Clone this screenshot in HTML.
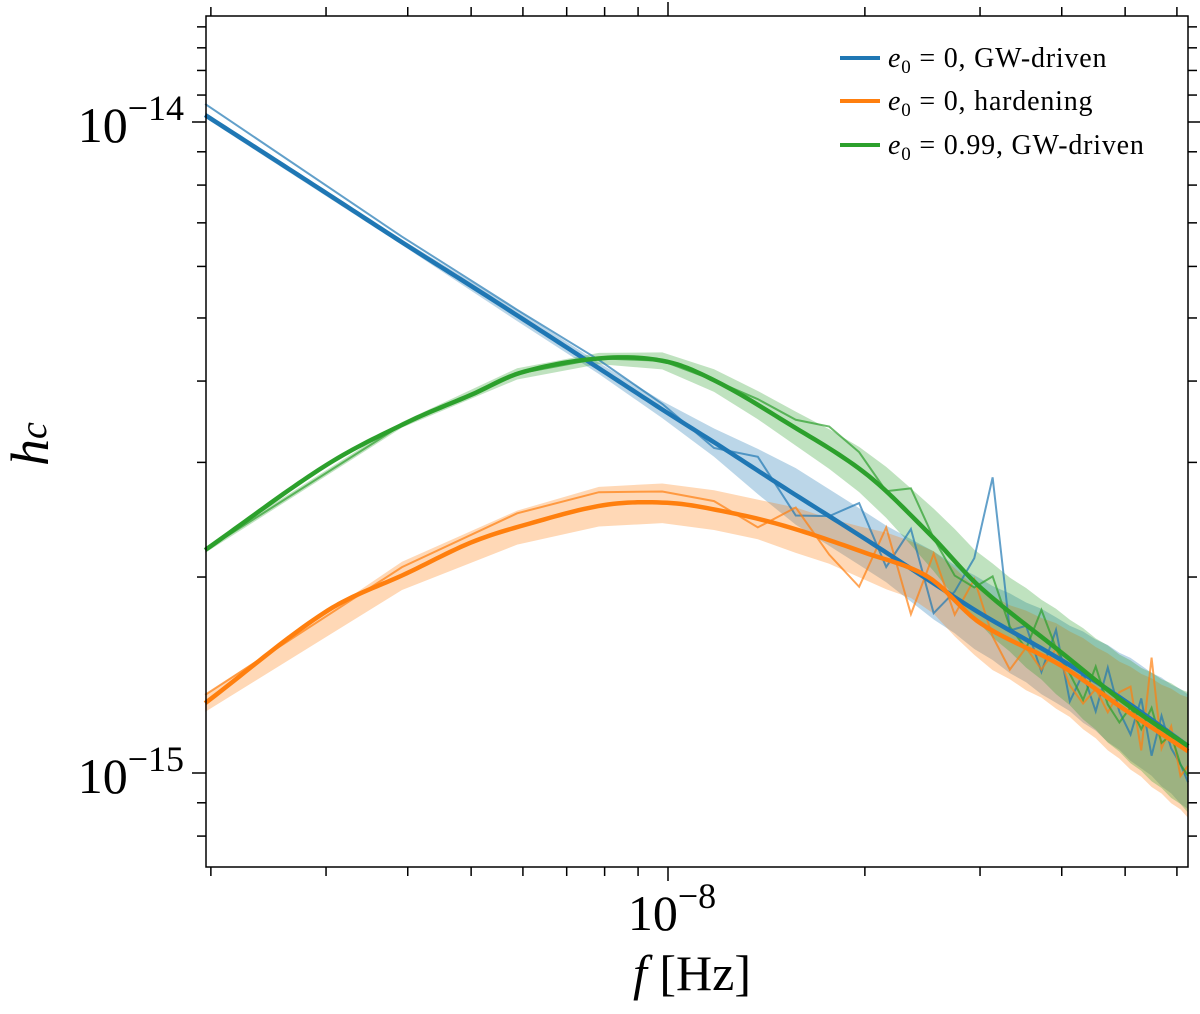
<!DOCTYPE html>
<html><head><meta charset="utf-8"><style>
body{margin:0;background:#fff}
svg text{font-family:"Liberation Serif","DejaVu Serif",serif;fill:#000}
</style></head><body>
<svg id="chart" width="1200" height="1009" viewBox="0 0 1200 1009" xmlns="http://www.w3.org/2000/svg">
<g id="bands"></g>
<g id="thin"></g>
<g id="thick"></g>
<g id="axes"></g>
<g id="legend">
 <line x1="840" y1="58" x2="880" y2="58" stroke="#1f77b4" stroke-width="4"/>
 <text x="888" y="67" font-size="28" letter-spacing="0.8"><tspan font-style="italic">e</tspan><tspan font-size="19" dy="6">0</tspan><tspan dy="-6"> = 0, GW-driven</tspan></text>
 <line x1="840" y1="101" x2="880" y2="101" stroke="#ff7f0e" stroke-width="4"/>
 <text x="888" y="110" font-size="28" letter-spacing="0.8"><tspan font-style="italic">e</tspan><tspan font-size="19" dy="6">0</tspan><tspan dy="-6"> = 0, hardening</tspan></text>
 <line x1="840" y1="145" x2="880" y2="145" stroke="#2ca02c" stroke-width="4"/>
 <text x="888" y="154" font-size="28" letter-spacing="0.8"><tspan font-style="italic">e</tspan><tspan font-size="19" dy="6">0</tspan><tspan dy="-6"> = 0.99, GW-driven</tspan></text>
</g>
</svg>
<script>
// frequencies in nHz, hc in units of 1e-15
const freqs = [1.96,3,4,5,6,8,10,12,15,20,25,30,40,50,62.4];
const blueHc = [10.25,7.78,6.45,5.60,4.98,4.13,3.57,3.18,2.75,2.29,1.98,1.76,1.49,1.29,1.10];
const orangeHc = [1.28,1.77,2.03,2.26,2.40,2.58,2.60,2.53,2.40,2.18,2.00,1.70,1.46,1.25,1.08];
const greenHc = [2.20,2.97,3.46,3.81,4.13,4.34,4.28,3.97,3.48,2.89,2.34,1.93,1.53,1.28,1.10];
// realization factors at f_k = 1.96*k nHz, k=1..32
const blueThin = [1.04,1.02,1.02,1.03,1.02,0.98,1.05,0.93,1.0,1.12,0.95,1.15,0.9,1.02,1.2,1.66,1.0,1.05,0.92,1.1,0.88,1.0,0.9,1.08,0.95,0.9,1.05,0.88,1.04,0.95,0.92,0.88];
const orangeThin = [1.03,1.03,1.05,1.05,1.04,1.03,0.97,1.08,0.95,0.88,1.12,0.85,1.1,0.95,1.15,0.98,0.9,1.0,0.95,1.05,0.95,0.92,1.0,0.95,1.05,1.1,0.9,1.28,0.95,1.05,0.9,0.95];
const greenThin = [1.0,1.0,1.0,1.0,1.0,1.0,1.02,1.03,1.08,1.06,1.0,1.1,1.0,0.95,0.98,1.08,0.95,0.92,1.1,1.0,0.95,0.9,1.05,0.95,0.92,1.0,0.95,1.05,0.95,1.0,0.92,0.9];
const blueSpread = [0.01,0.01,0.02,0.02,0.03,0.05,0.08,0.10,0.10,0.10,0.10,0.11,0.12,0.12,0.13,0.13,0.14,0.14,0.15,0.15,0.15,0.16,0.16,0.17,0.17,0.18,0.18,0.18,0.19,0.19,0.2,0.2];
const orangeSpread = [0.03,0.05,0.06,0.07,0.07,0.07,0.07,0.08,0.08,0.09,0.10,0.10,0.11,0.12,0.12,0.13,0.13,0.14,0.14,0.15,0.15,0.16,0.16,0.17,0.17,0.18,0.18,0.19,0.19,0.2,0.2,0.21];
const greenSpread = [0.01,0.01,0.02,0.02,0.03,0.04,0.05,0.06,0.07,0.08,0.09,0.10,0.11,0.12,0.12,0.13,0.13,0.14,0.14,0.15,0.15,0.16,0.16,0.17,0.17,0.18,0.18,0.19,0.19,0.2,0.2,0.21];
const xTickLabels = ["10","−8"];
const yTickLabels = [["10","−14"],["10","−15"]];

const X0=206,X1=1188,Y0=16,Y1=867;
function xs(f){return 668+654*Math.log10(f/10);}
function ys(h){return 773-651*Math.log10(h);}
const NS="http://www.w3.org/2000/svg";
function mk(tag,attrs,parent){const e=document.createElementNS(NS,tag);for(const k in attrs)e.setAttribute(k,attrs[k]);parent.appendChild(e);return e;}
function interp(arr,f){
  const lf=Math.log10(f), n=freqs.length;
  const L=freqs.map(Math.log10), V=arr.map(Math.log10);
  let i=0; while(i<n-2 && lf>L[i+1]) i++;
  const t=Math.max(0,Math.min(1,(lf-L[i])/(L[i+1]-L[i])));
  const p0=V[Math.max(i-1,0)],p1=V[i],p2=V[i+1],p3=V[Math.min(i+2,n-1)];
  const l0=L[Math.max(i-1,0)],l3=L[Math.min(i+2,n-1)];
  const h=L[i+1]-L[i];
  const m1=(p2-p0)/(L[i+1]-l0)*h, m2=(p3-p1)/(l3-L[i])*h;
  const t2=t*t,t3=t2*t;
  const v=(2*t3-3*t2+1)*p1+(t3-2*t2+t)*m1+(-2*t3+3*t2)*p2+(t3-t2)*m2;
  return Math.pow(10,v);
}
const fk=[];for(let k=1;k<=32;k++)fk.push(Math.min(1.96*k,62.4));
const series=[
 {name:"blue",c:"#1f77b4",hc:blueHc,thin:blueThin,sp:blueSpread},
 {name:"orange",c:"#ff7f0e",hc:orangeHc,thin:orangeThin,sp:orangeSpread},
 {name:"green",c:"#2ca02c",hc:greenHc,thin:greenThin,sp:greenSpread}];
const gB=document.getElementById('bands'),gT=document.getElementById('thin'),gK=document.getElementById('thick');
series.forEach(s=>{
  let up=[],lo=[];
  fk.forEach((f,i)=>{const h=interp(s.hc,f);up.push(xs(f)+","+ys(h*(1+s.sp[i])));lo.push(xs(f)+","+ys(h*(1-s.sp[i])));});
  const b=mk('polygon',{points:up.concat(lo.reverse()).join(" "),fill:s.c,'fill-opacity':0.3,stroke:'none'},gB);
  
  
  const tp=fk.map((f,i)=>xs(f)+","+ys(interp(s.hc,f)*s.thin[i])).join(" ");
  const t=mk('polyline',{points:tp,fill:'none',stroke:s.c,'stroke-width':2,'stroke-opacity':0.7},gT);
  
  
});
series.forEach(s=>{
  const pts=[];
  const a=Math.log10(freqs[0]), b=Math.log10(freqs[freqs.length-1]);
  for(let j=0;j<=200;j++){const f=Math.pow(10,a+(b-a)*j/200);pts.push(xs(f)+","+ys(interp(s.hc,f)));}
  const l=mk('polyline',{points:pts.join(" "),fill:'none',stroke:s.c,'stroke-width':4.5,'stroke-linejoin':'round'},gK);
  
  
});
const gA=document.getElementById('axes');
mk('rect',{x:X0,y:Y0,width:X1-X0,height:Y1-Y0,fill:'none',stroke:'#000','stroke-width':1.5},gA);
const xt=[2,3,4,5,6,7,8,9,10,20,30,40,50,60];
xt.forEach(f=>{const x=xs(f);const L=f===10?14:9;
  mk('line',{x1:x,y1:Y1,x2:x,y2:Y1+L,stroke:'#000','stroke-width':1.5},gA);
  mk('line',{x1:x,y1:Y0,x2:x,y2:Y0-L,stroke:'#000','stroke-width':1.5},gA);});
const yt=[0.8,0.9,1,2,3,4,5,6,7,8,9,10,11,12,13,14];
yt.forEach(h=>{const y=ys(h);if(y<Y0||y>Y1)return;const L=(h===1||h===10)?14:9;
  mk('line',{x1:X0,y1:y,x2:X0-L,y2:y,stroke:'#000','stroke-width':1.5},gA);
  mk('line',{x1:X1,y1:y,x2:X1+L,y2:y,stroke:'#000','stroke-width':1.5},gA);});
function powLabel(x,y,lab,anchor,name){
  const t=mk('text',{x:x,y:y,'font-size':50,'text-anchor':anchor},gA);
  
  
  const a=document.createElementNS(NS,'tspan');a.textContent=lab[0];t.appendChild(a);
  const b=document.createElementNS(NS,'tspan');b.setAttribute('font-size','36');b.setAttribute('dy','-22');b.textContent=lab[1];t.appendChild(b);
}
powLabel(184,142,yTickLabels[0],'end','y-tick-1e-14');
powLabel(184,793,yTickLabels[1],'end','y-tick-1e-15');
powLabel(xs(10)+4,930,xTickLabels,'middle','x-tick-1e-8');
const xl=mk('text',{x:692,y:990,'font-size':50,'text-anchor':'middle'},gA);


xl.innerHTML='<tspan font-style="italic">f</tspan> [Hz]';
const yl=mk('text',{x:0,y:0,'font-size':54,transform:'translate(48,466) rotate(-90)'},gA);


yl.innerHTML='<tspan font-style="italic">h</tspan><tspan font-style="italic" font-size="38" dy="-2">c</tspan>';
</script>
</body></html>
